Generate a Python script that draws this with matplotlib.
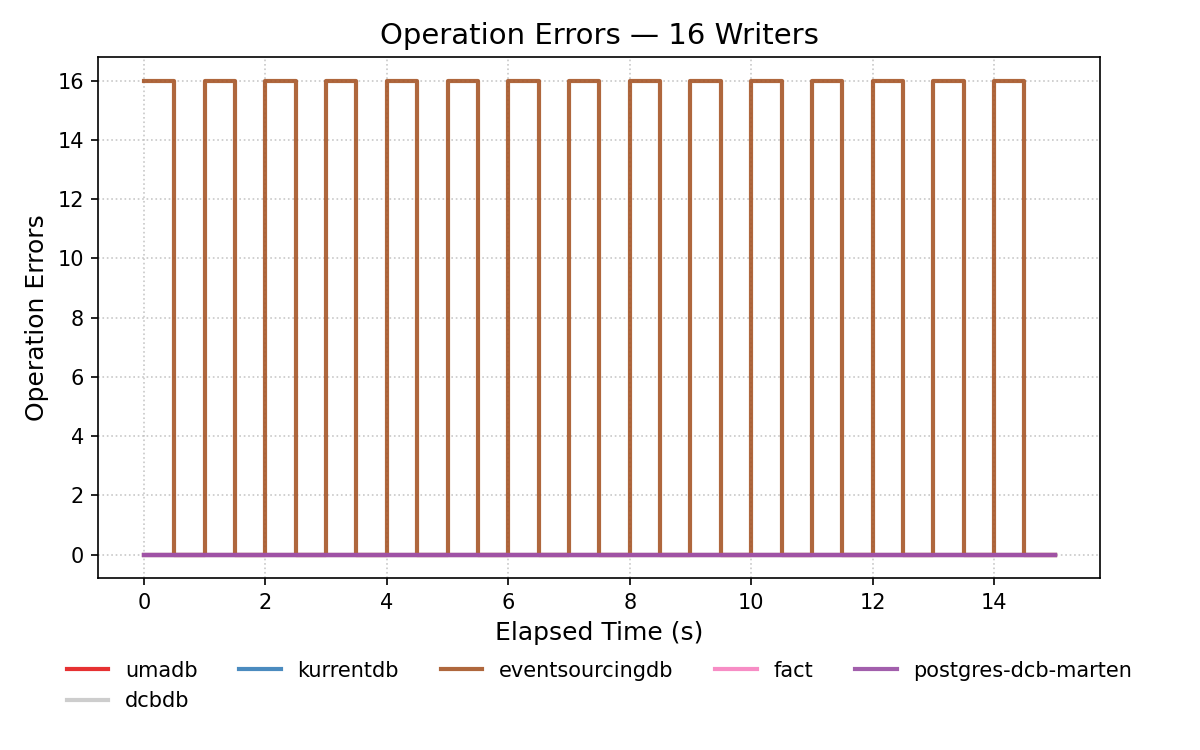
import matplotlib
matplotlib.use("Agg")
import matplotlib.pyplot as plt
import numpy as np

# elapsed time samples (s)
t = np.arange(0, 15.01, 0.5)

# errors per sample
umadb = [0] * len(t)
kurrentdb = [0] * len(t)
eventsourcingdb = [16, 0] * 15 + [0]
fact = [0] * len(t)
postgres_dcb_marten = [0] * len(t)
dcbdb = [0] * len(t)

series = [
    ("umadb", umadb, "#e41a1c"),
    ("kurrentdb", kurrentdb, "#377eb8"),
    ("eventsourcingdb", eventsourcingdb, "#a65628"),
    ("fact", fact, "#f781bf"),
    ("postgres-dcb-marten", postgres_dcb_marten, "#984ea3"),
    ("dcbdb", dcbdb, "#c8c8c8"),
]

fig, ax = plt.subplots(figsize=(8, 5), dpi=150)
lines = {}
for i, (name, vals, color) in enumerate(series):
    z = 1 if name == "dcbdb" else 2 + i
    (ln,) = ax.step(t, vals, where="post", label=name, color=color,
                    lw=2, alpha=0.9, zorder=z)
    lines[name] = ln

ax.set_title("Operation Errors \u2014 16 Writers", fontsize=14)
ax.set_xlabel("Elapsed Time (s)", fontsize=12)
ax.set_ylabel("Operation Errors", fontsize=12)
ax.set_yticks(np.arange(0, 17, 2))
ax.grid(True, linestyle=":", color="#bbbbbb", alpha=0.8)

# legend fills column-wise, so reorder to get the first five on row one
order = ["umadb", "dcbdb", "kurrentdb", "eventsourcingdb", "fact",
         "postgres-dcb-marten"]
ax.legend([lines[n] for n in order], order, loc="upper center",
          bbox_to_anchor=(0.5, -0.122), ncol=5, frameon=False, fontsize=10)

fig.subplots_adjust(left=0.082, right=0.917, top=0.924, bottom=0.229)
fig.savefig("out.png")
